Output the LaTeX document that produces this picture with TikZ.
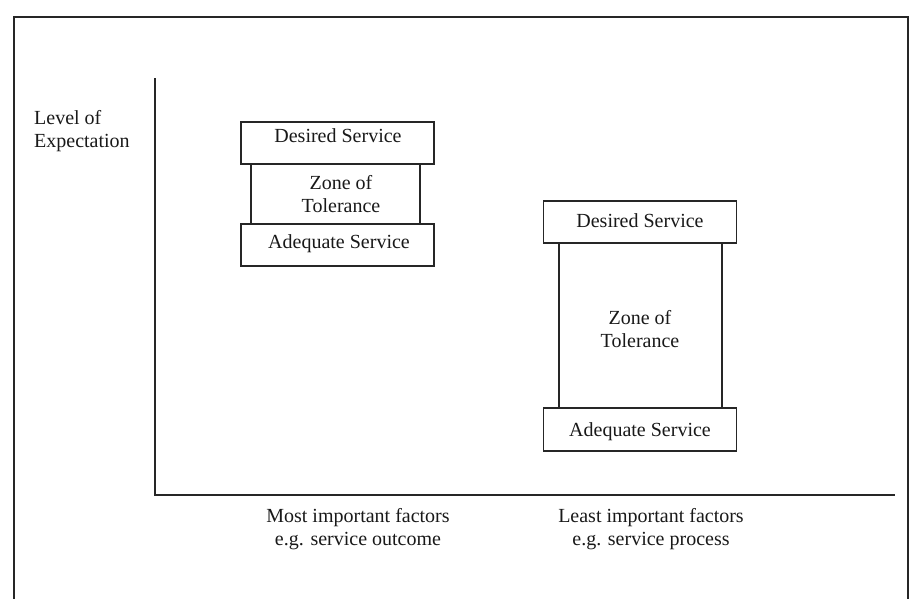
\documentclass[tikz,border=0pt]{standalone}
\usepackage{fontspec}
\setmainfont{Liberation Serif}
\begin{document}
\begin{tikzpicture}[x=1pt,y=-1pt,
  ink/.style={draw=black!85},
  frameline/.style={ink,line width=2pt},
  axisline/.style={ink,line width=1.3pt},
  servicebox/.style={ink,line width=1.3pt,fill=white,rectangle,inner sep=0pt},
  zonebox/.style={ink,line width=1.2pt,rectangle,inner sep=0pt},
  txt/.style={font=\fontsize{20}{23}\selectfont,inner sep=0pt,text=black!90},
]
\useasboundingbox (0,0) rectangle (914,598);

% outer frame (open at the bottom)
\draw[frameline] (14,600) -- (14,17) -- (908,17) -- (908,600);

% axes
\coordinate (ytop) at (155,78);
\coordinate (orig) at (155,495);
\coordinate (xend) at (895,495);
\draw[axisline] (ytop) -- (orig) -- (xend);

% axis labels (base anchor = baseline of the last line)
\node[txt,anchor=base west,align=left] (ylab) at (34,147) {Level of\\Expectation};
\node[txt,anchor=base,align=center] (xlab1) at (358,545) {Most important factors\\e.g. service outcome};
\node[txt,anchor=base,align=center] (xlab2) at (651,545) {Least important factors\\e.g. service process};

% left stack: narrow zone
\node[zonebox,minimum width=169,minimum height=62] (zoneA) at (335.5,194) {};
\node[servicebox,minimum width=193,minimum height=42] (desA) at (337.5,143) {};
\node[servicebox,minimum width=193,minimum height=42] (adqA) at (337.5,245) {};
\node[txt,anchor=base] at (338,142) {Desired Service};
\node[txt,anchor=base,align=center] at (341,212) {Zone of\\Tolerance};
\node[txt,anchor=base] at (339,248) {Adequate Service};

% right stack: wide zone
\node[zonebox,minimum width=163,minimum height=167] (zoneB) at (640.5,325.5) {};
\node[servicebox,minimum width=193,minimum height=42] (desB) at (640,222) {};
\node[servicebox,minimum width=193,minimum height=43] (adqB) at (640,429.5) {};
\node[txt,anchor=base] at (640,227) {Desired Service};
\node[txt,anchor=base,align=center] at (640,347) {Zone of\\Tolerance};
\node[txt,anchor=base] at (640,436) {Adequate Service};
\end{tikzpicture}
\end{document}
